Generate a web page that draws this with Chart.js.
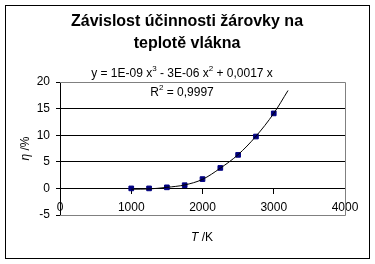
<!DOCTYPE html>
<html>
<head>
<meta charset="utf-8">
<script src="https://cdn.jsdelivr.net/npm/chart.js@4.4.1/dist/chart.umd.min.js"></script>
<style>
body { margin: 0; background: #fff; }
canvas { display: block; }
</style>
</head>
<body>
<canvas id="myChart" width="375" height="264"></canvas>
<script>
// measured points: temperature T/K vs efficiency eta/%
var temps = [1000, 1250, 1500, 1750, 2000, 2250, 2500, 2750, 3000];
var effic = [0, 0, 0.2, 0.6, 1.75, 3.85, 6.3, 9.75, 14.1];
// trendline
var trendT = [1000, 1250, 1500, 1750, 2000, 2250, 2500, 2750, 3000, 3200];
var trendY = [-0.15, -0.1, 0.2, 0.65, 1.7, 3.8, 6.35, 9.8, 14.1, 18.4];
var yTicks = [-5, 0, 5, 10, 15, 20];
var xTicks = [0, 1000, 2000, 3000, 4000];

var FONT = "'Liberation Sans', Arial, sans-serif";

function toXY(xs, ys) {
    var out = [];
    for (var i = 0; i < xs.length; i++) out.push({x: xs[i], y: ys[i]});
    return out;
}

// draws text pieces [text, isSuperscript] centred on cx
function drawPieces(c, parts, cx, base, size) {
    var w = 0;
    parts.forEach(function(p) {
        c.font = (p[1] ? 8 : size) + 'px ' + FONT;
        w += c.measureText(p[0]).width;
    });
    var x = cx - w / 2;
    c.textAlign = 'left';
    parts.forEach(function(p) {
        c.font = (p[1] ? 8 : size) + 'px ' + FONT;
        c.fillText(p[0], x, p[1] ? base - 6 : base);
        x += c.measureText(p[0]).width;
    });
}

// frame, plot border, title, trendline label and axis titles
var decor = {
    id: 'decor',
    beforeDatasetsDraw: function(chart) {
        var c = chart.ctx, a = chart.chartArea;
        c.save();
        c.strokeStyle = '#808080';
        c.lineWidth = 1;
        c.beginPath();
        c.moveTo(a.left, Math.round(a.top) + 0.5);
        c.lineTo(Math.round(a.right) + 0.5, Math.round(a.top) + 0.5);
        c.lineTo(Math.round(a.right) + 0.5, Math.round(a.bottom) + 0.5);
        c.lineTo(a.left, Math.round(a.bottom) + 0.5);
        c.stroke();
        c.restore();
    },
    afterDraw: function(chart) {
        var c = chart.ctx, a = chart.chartArea;
        c.save();
        c.strokeStyle = '#000';
        c.lineWidth = 1;
        c.strokeRect(5.5, 5.5, 364, 253);

        c.fillStyle = '#000';
        c.textAlign = 'center';
        c.textBaseline = 'alphabetic';
        c.font = 'bold 16px ' + FONT;
        c.fillText('Závislost účinnosti žárovky na', 187, 26);
        c.fillText('teplotě vlákna', 187, 48);

        drawPieces(c, [['y = 1E-09 x', 0], ['3', 1], [' - 3E-06 x', 0], ['2', 1], [' + 0,0017 x', 0]], 182, 77, 12);
        drawPieces(c, [['R', 0], ['2', 1], [' = 0,9997', 0]], 182, 96, 12);

        // x axis title: italic T
        c.font = 'italic 12px ' + FONT;
        var t1 = c.measureText('T').width;
        c.font = '12px ' + FONT;
        var t2 = c.measureText(' /K').width;
        var x = 202 - (t1 + t2) / 2;
        c.textAlign = 'left';
        c.font = 'italic 12px ' + FONT;
        c.fillText('T', x, 241);
        c.font = '12px ' + FONT;
        c.fillText(' /K', x + t1, 241);

        // y axis title, rotated
        c.translate(29, (a.top + a.bottom) / 2);
        c.rotate(-Math.PI / 2);
        c.font = 'italic 12px ' + FONT;
        t1 = c.measureText('η').width;
        c.font = '12px ' + FONT;
        t2 = c.measureText(' /%').width;
        x = -(t1 + t2) / 2;
        c.font = 'italic 12px ' + FONT;
        c.fillText('η', x, 0);
        c.font = '12px ' + FONT;
        c.fillText(' /%', x + t1, 0);
        c.restore();
    }
};

var ctx = document.getElementById('myChart');
var myChart = new Chart(ctx, {
    type: 'scatter',
    data: {
        datasets: [
            {
                type: 'line',
                data: toXY(trendT, trendY),
                borderColor: '#000',
                borderWidth: 1,
                pointRadius: 0,
                cubicInterpolationMode: 'monotone',
                fill: false
            },
            {
                data: toXY(temps, effic),
                pointStyle: 'rect',
                pointRadius: 3.3,
                backgroundColor: '#000080',
                borderColor: '#000080',
                borderWidth: 1
            }
        ]
    },
    options: {
        responsive: false,
        devicePixelRatio: 1,
        animation: false,
        layout: { padding: { left: 0, right: 30, top: 82, bottom: 49 } },
        plugins: { legend: { display: false }, tooltip: { enabled: false } },
        scales: {
            x: {
                type: 'linear',
                position: { y: 0 },
                min: 0, max: 4000,
                afterBuildTicks: function(s) { s.ticks = xTicks.map(function(v) { return {value: v}; }); },
                grid: { drawOnChartArea: false, drawTicks: true, tickLength: 5, tickColor: '#000' },
                border: { display: true, color: '#000', width: 1 },
                ticks: {
                    color: '#000', padding: 7, maxRotation: 0,
                    font: { family: FONT, size: 12 },
                    callback: function(v) { return String(v); }
                }
            },
            y: {
                type: 'linear',
                min: -5, max: 20,
                afterBuildTicks: function(s) { s.ticks = yTicks.map(function(v) { return {value: v}; }); },
                afterFit: function(s) { s.width = 60; },
                grid: {
                    color: function(c) { return (c.tick && (c.tick.value === 20 || c.tick.value === -5)) ? 'rgba(0,0,0,0)' : '#000'; },
                    tickColor: '#000',
                    tickLength: 4
                },
                border: { display: true, color: '#000', width: 1 },
                ticks: { color: '#000', padding: 6, font: { family: FONT, size: 12 }, callback: function(v) { return String(v); } }
            }
        }
    },
    plugins: [decor]
});
</script>
</body>
</html>
